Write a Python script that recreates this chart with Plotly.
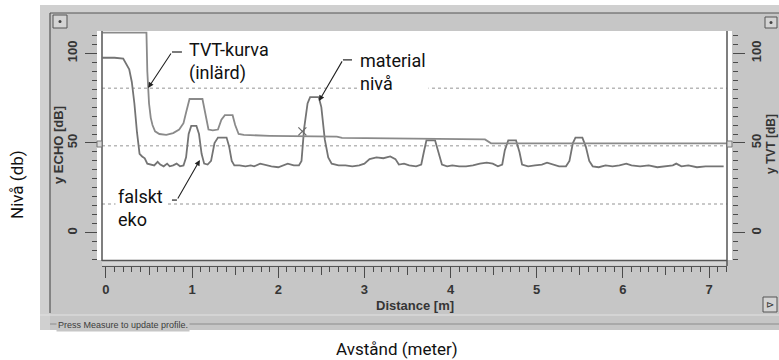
import plotly.graph_objects as go

W, H = 779, 360

# echo profile [dB] against distance [m]
echo_dist = [-0.04, 0.10, 0.20, 0.24, 0.27, 0.30, 0.33, 0.36, 0.39, 0.42,
             0.45, 0.48, 0.52, 0.56, 0.60, 0.63, 0.67, 0.71, 0.74, 0.78,
             0.82, 0.86, 0.90, 0.93, 0.96, 0.99, 1.05, 1.08, 1.11, 1.14,
             1.18, 1.22, 1.26, 1.30, 1.40, 1.43, 1.46, 1.49, 1.55, 1.62,
             1.68, 1.72, 1.79, 1.86, 1.92, 2.00, 2.06, 2.11, 2.18, 2.24,
             2.27, 2.30, 2.34, 2.37, 2.47, 2.50, 2.54, 2.58, 2.62, 2.70,
             2.78, 2.86, 2.94, 3.00, 3.06, 3.14, 3.22, 3.30, 3.36, 3.40,
             3.46, 3.52, 3.60, 3.66, 3.69, 3.72, 3.82, 3.86, 3.90, 3.96,
             4.02, 4.10, 4.18, 4.26, 4.34, 4.42, 4.49, 4.55, 4.60, 4.63,
             4.67, 4.76, 4.80, 4.83, 4.90, 4.98, 5.06, 5.12, 5.18, 5.26,
             5.34, 5.38, 5.42, 5.45, 5.53, 5.57, 5.61, 5.65, 5.72, 5.80,
             5.88, 5.96, 6.04, 6.10, 6.20, 6.30, 6.40, 6.50, 6.58, 6.62,
             6.68, 6.76, 6.86, 6.96, 7.06, 7.17]
echo_db = [97.5, 97.5, 97.0, 94.0, 91.0, 84.0, 72.0, 56.0, 44.0, 42.5,
           41.5, 38.5, 38.0, 37.5, 39.5, 38.0, 37.0, 38.5, 37.0, 37.5,
           38.5, 37.0, 37.5, 42.0, 55.0, 59.5, 59.5, 55.0, 44.0, 38.5,
           38.0, 40.0, 50.0, 53.0, 53.0, 48.0, 40.0, 37.5, 37.5, 37.0,
           37.5, 37.0, 38.5, 37.5, 37.0, 36.5, 37.5, 38.5, 37.5, 37.5,
           40.0, 58.0, 72.0, 75.5, 75.5, 70.0, 52.0, 42.0, 38.5, 37.5,
           37.5, 37.0, 37.5, 38.5, 41.0, 42.0, 41.5, 42.5, 41.0, 38.0,
           38.5, 37.5, 37.0, 38.0, 45.0, 51.5, 51.5, 45.0, 38.0, 37.0,
           37.5, 37.0, 37.0, 37.5, 38.5, 39.0, 38.5, 37.0, 38.0, 46.0,
           51.5, 51.5, 45.0, 38.0, 37.0, 37.5, 38.0, 39.0, 38.0, 37.0,
           37.0, 40.0, 50.0, 53.0, 53.0, 48.0, 40.0, 37.0, 36.5, 37.5,
           37.0, 37.5, 38.5, 37.5, 37.0, 37.5, 36.5, 37.0, 37.5, 38.5,
           37.0, 37.5, 36.5, 37.0, 37.0, 37.0]

# learned TVT curve
tvt_dist = [-0.04, 0.47, 0.48, 0.50, 0.52, 0.54, 0.57, 0.62, 0.70, 0.78,
            0.85, 0.90, 0.93, 0.97, 1.12, 1.15, 1.19, 1.24, 1.30, 1.34,
            1.38, 1.47, 1.50, 1.54, 1.60, 1.90, 2.30, 2.68, 2.74, 3.50,
            4.40, 4.47, 7.21]
tvt_db = [111.5, 111.5, 90.0, 72.0, 64.0, 60.0, 56.5, 55.0, 54.5, 55.5,
          57.5, 61.0, 67.0, 74.5, 74.5, 68.0, 57.5, 57.0, 57.5, 63.0,
          65.5, 65.5, 60.0, 55.0, 54.5, 54.0, 53.7, 53.5, 52.8, 52.5,
          52.0, 49.8, 49.8]

cross_dist = [2.28]
cross_db = [56.5]

grid_levels = [16, 48.5, 80.5]
x_major = [0, 1, 2, 3, 4, 5, 6, 7]
x_half = [v + 0.5 for v in x_major[:-1]]

X_RANGE = [-0.046, 7.209]
Y_RANGE = [-15.2, 112.4]

PANEL = "#c6c6c6"
DARK = "#4a4a4a"
LBL = "#353535"
CURVE = "#747474"

ruler_font = dict(family="Liberation Sans", size=13, color=LBL, weight="bold")
note_font = dict(family="Roboto", size=18, color="#111111")


def px(x):
    return x / W


def py(y):
    return 1 - y / H


def prect(x0, y0, x1, y1, fill, line=None, layer="above"):
    return dict(type="rect", xref="paper", yref="paper",
                x0=px(x0), x1=px(x1), y0=py(y1), y1=py(y0), fillcolor=fill,
                line=line or dict(width=0), layer=layer)


def pline(x0, y0, x1, y1, color="#555", width=1.2):
    return dict(type="line", xref="paper", yref="paper",
                x0=px(x0), x1=px(x1), y0=py(y0), y1=py(y1),
                line=dict(color=color, width=width))


fig = go.Figure()

fig.add_trace(go.Scatter(x=echo_dist, y=echo_db, mode="lines",
                         line=dict(color=CURVE, width=1.8),
                         xaxis="x", yaxis="y", hoverinfo="skip"))
fig.add_trace(go.Scatter(x=tvt_dist, y=tvt_db, mode="lines",
                         line=dict(color="#8a8a8a", width=1.8),
                         xaxis="x2", yaxis="y2", hoverinfo="skip"))
fig.add_trace(go.Scatter(x=cross_dist, y=cross_db, mode="markers",
                         marker=dict(symbol="x-thin", size=8,
                                     line=dict(color="#6a6a6a", width=1.2)),
                         xaxis="x2", yaxis="y2", hoverinfo="skip"))

shapes = []
for lvl in grid_levels:
    shapes.append(dict(type="line", xref="x domain", yref="y", x0=0, x1=1,
                       y0=lvl, y1=lvl, layer="below",
                       line=dict(color="#b8b8b8", width=1.4, dash="dot")))

shapes += [
    # white page outside the window
    prect(0, 0, 40, 360, "white"),
    prect(0, 0, 779, 5, "white"),
    prect(0, 330, 779, 360, "white"),
    # lighter window rim
    prect(40, 5, 50, 330, "#d0d0d0"),
    prect(40, 5, 779, 13, "#d0d0d0"),
    # white margins beside the rulers
    prect(97, 31, 102, 260, "white"),
    prect(727, 31, 732, 260, "white"),
    prect(102, 261, 727, 265.5, "#d6d6d6"),
    # frame lines
    pline(102, 261, 102, 31, width=1.5),
    pline(727, 266, 727, 31, width=1.5),
    pline(102, 260.5, 727, 260.5, width=1.5),
    pline(50, 313, 50, 13),
    pline(50, 13, 779, 13),
    # status bar
    pline(40, 315, 779, 315, color="#e2e2e2", width=1),
    pline(50, 324, 779, 324, color="#8c8c8c", width=1),
    # small buttons
    prect(53, 15, 67, 28, "#d4d4d4", dict(color="#555", width=1)),
    dict(type="circle", xref="paper", yref="paper", x0=px(58.5), x1=px(61.5),
         y0=py(23), y1=py(20), fillcolor="#444", line_width=0),
    prect(765, 17, 777, 28, "#d4d4d4", dict(color="#555", width=1)),
    dict(type="circle", xref="paper", yref="paper", x0=px(769.5), x1=px(772.5),
         y0=py(24), y1=py(21), fillcolor="#444", line_width=0),
    prect(763, 297, 777, 312, "#d4d4d4", dict(color="#555", width=1)),
    # level markers at the rulers
    prect(97, 141, 102, 147, "#dddddd", dict(color="#777", width=1)),
    prect(727, 141, 732, 147, "#dddddd", dict(color="#777", width=1)),
]

# leader lines: short horizontal dash next to the text
dashes = [(0.766, 0.882, 100.7), (2.751, 2.856, 96.3), (0.766, 0.824, 18.2)]
for x0, x1, yv in dashes:
    shapes.append(dict(type="line", xref="x", yref="y", x0=x0, x1=x1, y0=yv, y1=yv,
                       line=dict(color="#222", width=1.2)))


def note(x, y, text):
    return dict(x=x, y=y, xref="x", yref="y", text=text, xanchor="left",
                yanchor="middle", align="left", showarrow=False,
                font=note_font, bgcolor="white", borderpad=2)


def arrow(x, y, ax, ay):
    return dict(x=x, y=y, ax=ax, ay=ay, xref="x", yref="y", axref="x", ayref="y",
                text="", showarrow=True, arrowhead=2, arrowsize=1, arrowwidth=1.1,
                arrowcolor="#222", standoff=0)


def label(x, y, text, font, angle=0, **kw):
    return dict(x=px(x), y=py(y), xref="paper", yref="paper", text=text,
                textangle=angle, xanchor=kw.pop("xanchor", "center"),
                yanchor="middle", showarrow=False, font=font, **kw)


outer_font = dict(family="Roboto", size=17, color="#111")

annotations = [
    note(0.929, 95.5, "TVT-kurva<br>(inlärd)"),
    note(2.914, 89.4, "material<br>nivå"),
    note(0.104, 14.0, "falskt<br>eko"),
    arrow(0.49, 80.7, 0.766, 100.7),
    arrow(2.473, 73.4, 2.751, 96.3),
    arrow(1.09, 40.5, 0.824, 18.2),
    label(58, 145, "y ECHO [dB]", ruler_font, -90),
    label(771, 144, "y TVT [dB]", dict(ruler_font, size=12), -90),
    label(415, 305, "Distance [m]", ruler_font),
    label(56, 325, "Press Measure to update profile.",
          dict(family="Liberation Sans", size=9, color="#3c3c3c"),
          xanchor="left", bgcolor=PANEL, borderpad=1),
    label(770, 304.5, "⊳", dict(family="DejaVu Sans", size=10, color="#333")),
    label(17, 185, "Nivå (db)", outer_font, -90),
    label(397, 349, "Avstånd (meter)", outer_font),
]

y_ruler = dict(range=Y_RANGE, domain=[py(260), py(31)], anchor="free",
               showgrid=False, zeroline=False, showline=False,
               ticks="outside", tickmode="linear", tick0=0, dtick=50,
               ticklen=12, tickwidth=1, tickcolor=DARK, tickangle=-90,
               tickfont=ruler_font,
               minor=dict(ticks="outside", tickmode="linear", tick0=0, dtick=5,
                          ticklen=5, tickwidth=1, tickcolor=DARK))

fig.update_layout(
    width=W, height=H, margin=dict(l=0, r=0, t=0, b=0),
    paper_bgcolor=PANEL, plot_bgcolor="white", showlegend=False,
    xaxis=dict(range=X_RANGE, domain=[px(102), px(727)], anchor="free",
               position=py(266), showgrid=False, zeroline=False,
               showline=True, linecolor="#555", linewidth=1,
               ticks="outside", tickmode="linear", tick0=0, dtick=1,
               ticklen=11, tickwidth=1, tickcolor=DARK, tickfont=ruler_font,
               minor=dict(ticks="outside", tickmode="linear", tick0=0, dtick=0.1,
                          ticklen=5, tickwidth=1, tickcolor=DARK)),
    xaxis2=dict(range=X_RANGE, overlaying="x", anchor="free", position=py(266),
                showgrid=False, zeroline=False, showline=False,
                ticks="outside", tickmode="array", tickvals=x_half,
                ticklen=8, tickwidth=1, tickcolor=DARK, showticklabels=False),
    yaxis=dict(y_ruler, side="left", position=px(97), ticklabelstandoff=3),
    yaxis2=dict(y_ruler, side="right", overlaying="y", position=px(732),
                ticklabelstandoff=0),
)
fig.layout.shapes = shapes
fig.layout.annotations = annotations

fig.write_html("out.html", config={"displayModeBar": False},
               post_script="document.body.style.margin='0';"
                           "document.body.style.overflow='hidden';")
